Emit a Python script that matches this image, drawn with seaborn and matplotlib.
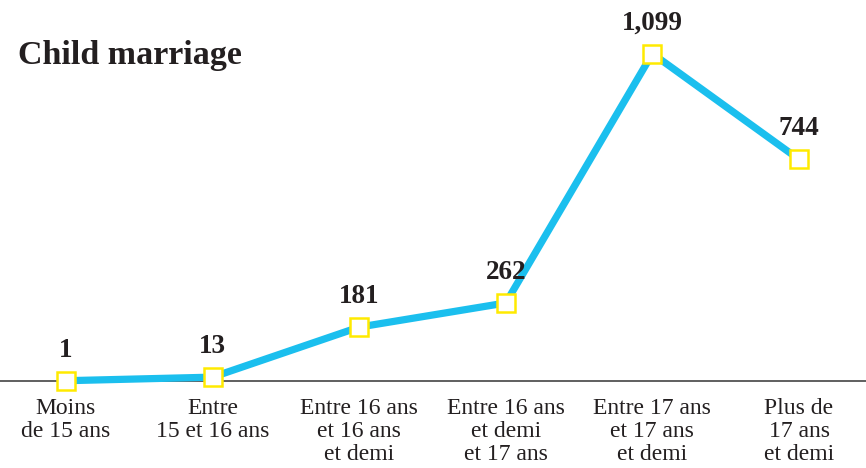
import pandas as pd
import matplotlib.pyplot as plt
import seaborn as sns

categories = [
    "Moins\nde 15 ans",
    "Entre\n15 et 16 ans",
    "Entre 16 ans\net 16 ans\net demi",
    "Entre 16 ans\net demi\net 17 ans",
    "Entre 17 ans\net 17 ans\net demi",
    "Plus de\n17 ans\net demi",
]
counts = [1, 13, 181, 262, 1099, 744]
value_labels = ["1", "13", "181", "262", "1,099", "744"]

TEXT = "#231f20"
LINE = "#1bbfee"
MARK = "#ffea00"


def plot_child_marriage():
    sns.set_style("white")
    plt.rcParams['font.family'] = ['Liberation Serif', 'DejaVu Serif']

    df = pd.DataFrame({'pos': range(len(counts)), 'count': counts})

    fig = plt.figure(figsize=(8.66, 4.68), dpi=100)
    ax = fig.add_axes([0, 0, 1, 1])
    ax.axhline(0, color="#444444", lw=1.2, zorder=1)
    sns.lineplot(data=df, x='pos', y='count', ax=ax, color=LINE, lw=5.2,
                 marker='s', markersize=12.5, markerfacecolor='white',
                 markeredgecolor=MARK, markeredgewidth=1.8, zorder=3)

    for i, (v, lab) in enumerate(zip(counts, value_labels)):
        ax.annotate(lab, (i, v), xytext=(0, 13), textcoords='offset points',
                    ha='center', va='bottom', fontsize=19.5, fontweight='bold',
                    color=TEXT)
        ax.annotate(categories[i], (i, 0), xytext=(0, -12), textcoords='offset points',
                    ha='center', va='top', fontsize=17, color=TEXT,
                    linespacing=1.12)

    ax.set_xlim(-0.45, 5.457)
    ax.set_ylim(-292, 1279)
    ax.axis('off')

    fig.text(18 / 866, 1 - 64 / 468, "Child marriage", fontsize=24.5,
             fontweight='bold', color=TEXT, ha='left', va='baseline')

    fig.savefig('out.png', dpi=100)
    plt.close(fig)


if __name__ == "__main__":
    plot_child_marriage()
